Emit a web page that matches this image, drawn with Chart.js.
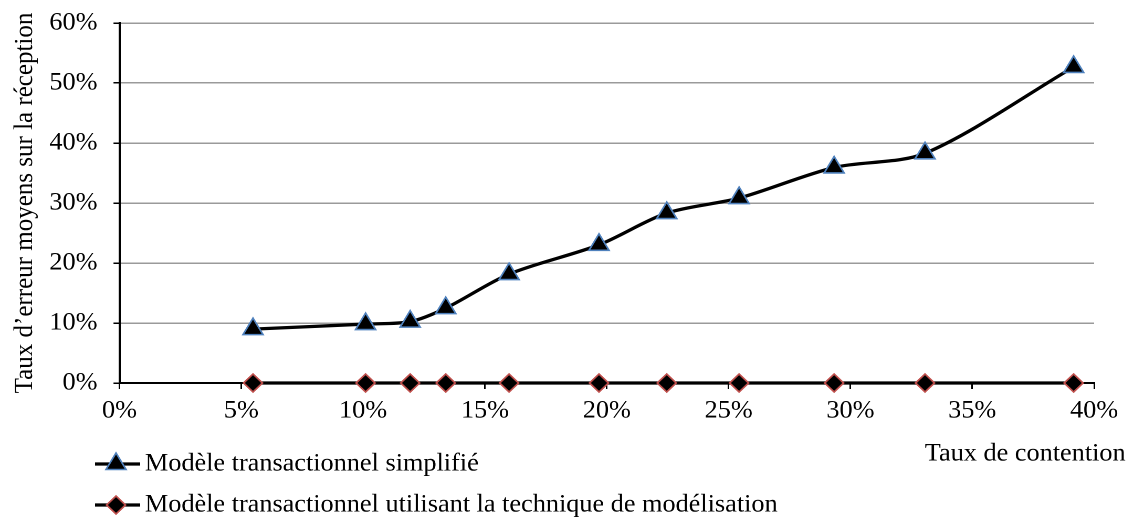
<!DOCTYPE html>
<html>
<head>
<meta charset="utf-8">
<script src="https://cdn.jsdelivr.net/npm/chart.js@4/dist/chart.umd.min.js"></script>
<style>
  html, body { margin: 0; padding: 0; background: #fff; overflow: hidden; }
  /* the figure is drawn a little narrower and widened to full width */
  .wrap { width: 1080px; height: 522px; transform: scaleX(1.05); transform-origin: 0 0; }
</style>
</head>
<body>
<div class="wrap"><canvas id="chart"></canvas></div>
<script>
const contention = [5.48, 10.1, 11.93, 13.39, 15.99, 19.68, 22.46, 25.43, 29.33, 33.06, 39.16];
const simplifie = [8.98, 9.82, 10.23, 12.48, 18.15, 23.03, 28.32, 30.82, 35.92, 38.28, 52.67];
const modelisation = [0, 0, 0, 0, 0, 0, 0, 0, 0, 0, 0];
const seriesNames = [
  "Modèle transactionnel simplifié",
  "Modèle transactionnel utilisant la technique de modélisation"
];
const xTitle = "Taux de contention";
const yTitle = "Taux d\u2019erreur moyens sur la réception";

const FONT = '"Liberation Serif", "Times New Roman", serif';
const SIZE = 25;
const BLUE = "#4F81BD";
const RED = "#C0504D";

const toPoints = (ys) => ys.map((y, i) => ({ x: contention[i], y }));

// legend rows and x title, drawn under the axis
const bottomLegend = {
  id: "bottomLegend",
  afterDraw(chart) {
    const ctx = chart.ctx;
    ctx.save();
    ctx.font = SIZE + "px " + FONT;
    ctx.fillStyle = "#000";
    ctx.textBaseline = "middle";
    ctx.textAlign = "right";
    ctx.fillText(xTitle, 1072, 454);

    ctx.textAlign = "left";
    chart.data.datasets.forEach((ds, i) => {
      const y = 464 + i * 41;
      ctx.strokeStyle = "#000";
      ctx.lineWidth = ds.borderWidth;
      ctx.beginPath();
      ctx.moveTo(90.5, y);
      ctx.lineTo(133.5, y);
      ctx.stroke();

      const cx = 110.5, r = ds.pointRadius;
      ctx.beginPath();
      if (ds.pointStyle === "triangle") {
        ctx.moveTo(cx, y - r);
        ctx.lineTo(cx + r * Math.sin(Math.PI / 3), y + r / 2);
        ctx.lineTo(cx - r * Math.sin(Math.PI / 3), y + r / 2);
      } else {
        ctx.moveTo(cx - r, y);
        ctx.lineTo(cx, y - r);
        ctx.lineTo(cx + r, y);
        ctx.lineTo(cx, y + r);
      }
      ctx.closePath();
      ctx.fillStyle = "#000";
      ctx.fill();
      ctx.lineWidth = ds.pointBorderWidth;
      ctx.strokeStyle = ds.pointBorderColor;
      ctx.stroke();

      ctx.fillStyle = "#000";
      ctx.fillText(ds.label, 138, y);
    });
    ctx.restore();
  }
};

new Chart(document.getElementById("chart"), {
  type: "line",
  data: {
    datasets: [
      {
        label: seriesNames[0],
        data: toPoints(simplifie),
        borderColor: "#000",
        borderWidth: 3.3,
        tension: 0.3,
        pointStyle: "triangle",
        pointRadius: 11,
        pointBackgroundColor: "#000",
        pointBorderColor: BLUE,
        pointBorderWidth: 1.6,
        clip: false,
      },
      {
        label: seriesNames[1],
        data: toPoints(modelisation),
        borderColor: "#000",
        borderWidth: 3.3,
        tension: 0,
        pointStyle: "rectRot",
        pointRadius: 9,
        pointBackgroundColor: "#000",
        pointBorderColor: RED,
        pointBorderWidth: 1.6,
        clip: false,
      },
    ],
  },
  options: {
    responsive: true,
    maintainAspectRatio: false,
    animation: false,
    devicePixelRatio: 2,
    layout: { padding: { top: 23, right: 38, left: 0, bottom: 0 } },
    scales: {
      x: {
        type: "linear",
        min: 0,
        max: 40,
        afterFit: (s) => { s.height = 139; s.paddingLeft = 0; s.paddingRight = 0; },
        border: { color: "#000", width: 2 },
        grid: { drawOnChartArea: false, drawTicks: true, tickLength: 6, tickColor: "#000", lineWidth: 1.5 },
        ticks: {
          stepSize: 5,
          color: "#000",
          padding: 7,
          maxRotation: 0,
          font: { family: FONT, size: SIZE },
          callback: (v) => v + "%",
        },
      },
      y: {
        min: 0,
        max: 60,
        afterFit: (s) => { s.width = 113.8; s.paddingTop = 0; s.paddingBottom = 0; },
        border: { color: "#000", width: 2 },
        grid: { color: "#9a9a9a", lineWidth: 1.5, tickColor: "#000", tickLength: 5.7 },
        ticks: {
          stepSize: 10,
          color: "#000",
          padding: 15.3,
          font: { family: FONT, size: SIZE },
          callback: (v) => v + "%",
        },
        title: {
          display: true,
          text: yTitle,
          color: "#000",
          padding: { top: 9, bottom: 0 },
          font: { family: FONT, size: SIZE },
        },
      },
    },
    plugins: {
      legend: { display: false },
      tooltip: { enabled: false },
    },
  },
  plugins: [bottomLegend],
});
</script>
</body>
</html>
